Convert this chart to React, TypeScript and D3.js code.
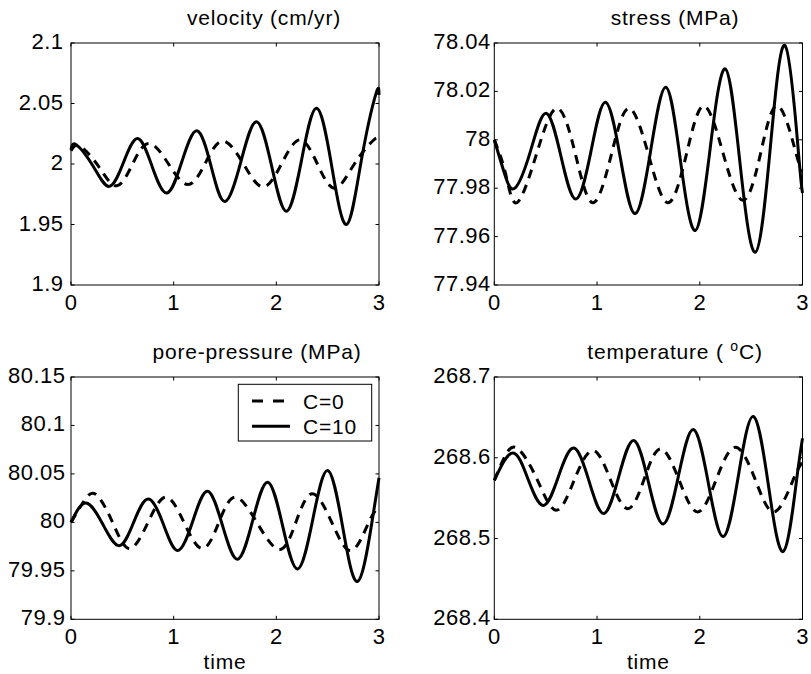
import React from 'react';
import * as d3 from 'd3';

// ---- data ----
const timeTicks = [0, 1, 2, 3];
const timeTickLabels = ['0', '1', '2', '3'];

const velTicks = [1.9, 1.95, 2, 2.05, 2.1];
const velTickLabels = ['1.9', '1.95', '2', '2.05', '2.1'];
const strTicks = [77.94, 77.96, 77.98, 78, 78.02, 78.04];
const strTickLabels = ['77.94', '77.96', '77.98', '78', '78.02', '78.04'];
const poreTicks = [79.9, 79.95, 80, 80.05, 80.1, 80.15];
const poreTickLabels = ['79.9', '79.95', '80', '80.05', '80.1', '80.15'];
const tempTicks = [268.4, 268.5, 268.6, 268.7];
const tempTickLabels = ['268.4', '268.5', '268.6', '268.7'];

const velT10 = [0, 0.05, 0.21, 0.37, 0.51, 0.65, 0.79, 0.935, 1.08, 1.227, 1.365, 1.5, 1.655, 1.808, 1.955, 2.1, 2.245, 2.393, 2.54, 2.685, 2.83, 2.97, 3.0];
const velV10 = [2.012, 2.016, 1.999, 1.9815, 2.001, 2.021, 1.998, 1.976, 2.002, 2.0275, 1.998, 1.969, 2.002, 2.035, 1.998, 1.961, 2.003, 2.046, 1.998, 1.95, 2.004, 2.058, 2.057];
const velT0 = [0, 0.08, 0.26, 0.44, 0.6, 0.76, 0.95, 1.14, 1.31, 1.48, 1.68, 1.87, 2.05, 2.23, 2.4, 2.57, 2.76, 2.95, 3.0];
const velV0 = [2.011, 2.015, 1.999, 1.982, 2.0, 2.017, 2.0, 1.983, 2.001, 2.019, 2.0, 1.981, 2.0, 2.02, 2.0, 1.98, 2.0, 2.02, 2.019];

const strT10 = [0, 0.1, 0.2, 0.35, 0.503, 0.65, 0.795, 0.94, 1.081, 1.225, 1.37, 1.52, 1.67, 1.81, 1.956, 2.1, 2.248, 2.39, 2.54, 2.685, 2.83, 2.96, 3.0];
const strV10 = [78.0, 77.986, 77.98, 77.995, 78.011, 77.993, 77.9755, 77.995, 78.0155, 77.993, 77.9695, 77.995, 78.0217, 77.992, 77.9625, 77.996, 78.0293, 77.991, 77.9535, 77.996, 78.0389, 77.995, 77.978];
const strT0 = [0, 0.11, 0.22, 0.41, 0.61, 0.79, 0.96, 1.14, 1.31, 1.5, 1.69, 1.87, 2.04, 2.23, 2.42, 2.59, 2.76, 2.94, 3.0];
const strV0 = [78.0, 77.986, 77.974, 77.994, 78.013, 77.994, 77.974, 77.994, 78.013, 77.994, 77.974, 77.994, 78.014, 77.994, 77.975, 77.994, 78.014, 77.994, 77.987];

const poreT10 = [0, 0.146, 0.31, 0.47, 0.61, 0.753, 0.9, 1.04, 1.185, 1.33, 1.475, 1.623, 1.77, 1.916, 2.06, 2.208, 2.355, 2.5, 2.645, 2.79, 2.925, 3.0];
const poreV10 = [80.0, 80.02, 79.998, 79.976, 80.0, 80.024, 79.998, 79.971, 80.001, 80.032, 79.997, 79.962, 80.002, 80.0415, 79.997, 79.952, 80.003, 80.0536, 79.996, 79.939, 79.996, 80.046];
const poreT0 = [0, 0.12, 0.24, 0.405, 0.57, 0.75, 0.925, 1.1, 1.28, 1.44, 1.6, 1.81, 2.03, 2.19, 2.35, 2.54, 2.73, 2.9, 3.0];
const poreV0 = [80.0, 80.021, 80.029, 80.0, 79.973, 80.0, 80.026, 80.0, 79.973, 80.0, 80.026, 80.0, 79.972, 80.0, 80.0295, 80.0, 79.971, 80.0, 80.016];

const tempT10 = [0, 0.18, 0.33, 0.48, 0.625, 0.773, 0.92, 1.065, 1.21, 1.357, 1.5, 1.644, 1.79, 1.937, 2.083, 2.229, 2.375, 2.521, 2.667, 2.813, 2.94, 3.0];
const tempV10 = [268.572, 268.606, 268.573, 268.541, 268.577, 268.612, 268.572, 268.531, 268.576, 268.6215, 268.57, 268.518, 268.576, 268.635, 268.569, 268.5025, 268.577, 268.651, 268.567, 268.484, 268.57, 268.624];
const tempT0 = [0, 0.1, 0.22, 0.41, 0.6, 0.78, 0.96, 1.13, 1.3, 1.46, 1.62, 1.8, 1.98, 2.16, 2.346, 2.54, 2.726, 2.91, 3.0];
const tempV0 = [268.572, 268.601, 268.612, 268.575, 268.535, 268.573, 268.609, 268.573, 268.537, 268.574, 268.611, 268.572, 268.533, 268.573, 268.613, 268.573, 268.533, 268.573, 268.595];

const legendLabels = ['C=0', 'C=10'];

// ---- layout ----
const FONT = "'Liberation Sans', Arial, Helvetica, sans-serif";
const W = 811;
const H = 674;

type Panel = {
  key: string;
  title: string;
  titleX: number;
  titleY: number;
  left: number;
  right: number;
  top: number;
  bottom: number;
  yDomain: [number, number];
  yTicks: number[];
  yLabels: string[];
  labelGap: number;
  t0: number[];
  v0: number[];
  t10: number[];
  v10: number[];
  xlabel: boolean;
  legend: boolean;
};

const panels: Panel[] = [
  {
    key: 'vel', title: 'velocity (cm/yr)', titleX: 264, titleY: 25,
    left: 71, right: 379, top: 43, bottom: 285,
    yDomain: [1.9, 2.1], yTicks: velTicks, yLabels: velTickLabels, labelGap: 7.5,
    t0: velT0, v0: velV0, t10: velT10, v10: velV10, xlabel: false, legend: false,
  },
  {
    key: 'str', title: 'stress (MPa)', titleX: 675, titleY: 25,
    left: 494.3, right: 802.5, top: 43, bottom: 285,
    yDomain: [77.94, 78.04], yTicks: strTicks, yLabels: strTickLabels, labelGap: 3.5,
    t0: strT0, v0: strV0, t10: strT10, v10: strV10, xlabel: false, legend: false,
  },
  {
    key: 'pore', title: 'pore-pressure (MPa)', titleX: 257, titleY: 359,
    left: 71, right: 379, top: 377, bottom: 619.3,
    yDomain: [79.9, 80.15], yTicks: poreTicks, yLabels: poreTickLabels, labelGap: 5.5,
    t0: poreT0, v0: poreV0, t10: poreT10, v10: poreV10, xlabel: true, legend: true,
  },
  {
    key: 'temp', title: 'temperature', titleX: 675, titleY: 359,
    left: 494.3, right: 802.5, top: 377, bottom: 619.3,
    yDomain: [268.4, 268.7], yTicks: tempTicks, yLabels: tempTickLabels, labelGap: 3.5,
    t0: tempT0, v0: tempV0, t10: tempT10, v10: tempV10, xlabel: true, legend: false,
  },
];

const TICK = 3.5;
const LW = 3;
const DASH = '9,7';
const TITLE_FS = 21;
const TITLE_LS = 0.8;

function PanelView({ p }: { p: Panel }) {
  const x = d3.scaleLinear().domain([0, 3]).range([p.left, p.right]);
  const y = d3.scaleLinear().domain(p.yDomain).range([p.bottom, p.top]);
  const line = d3
    .line<[number, number]>()
    .x((d) => x(d[0]))
    .y((d) => y(d[1]))
    .curve(d3.curveNatural);
  const s0 = p.t0.map((t, i) => [t, p.v0[i]] as [number, number]);
  const s10 = p.t10.map((t, i) => [t, p.v10[i]] as [number, number]);

  return (
    <g>
      <path d={line(s0) || ''} fill="none" stroke="#000" strokeWidth={LW} strokeDasharray={DASH} />
      <path d={line(s10) || ''} fill="none" stroke="#000" strokeWidth={LW} />
      <rect x={p.left} y={p.top} width={p.right - p.left} height={p.bottom - p.top} fill="none" stroke="#000" strokeWidth={1} />
      {timeTicks.map((t, i) => (
        <g key={'xt' + i}>
          <line x1={x(t)} x2={x(t)} y1={p.bottom} y2={p.bottom - TICK} stroke="#000" strokeWidth={1} />
          <line x1={x(t)} x2={x(t)} y1={p.top} y2={p.top + TICK} stroke="#000" strokeWidth={1} />
          <text x={x(t)} y={p.bottom + 25} textAnchor="middle" fontSize={22} letterSpacing={0.5} fontFamily={FONT}>
            {timeTickLabels[i]}
          </text>
        </g>
      ))}
      {p.yTicks.map((v, i) => (
        <g key={'yt' + i}>
          <line x1={p.left} x2={p.left + TICK} y1={y(v)} y2={y(v)} stroke="#000" strokeWidth={1} />
          <line x1={p.right} x2={p.right - TICK} y1={y(v)} y2={y(v)} stroke="#000" strokeWidth={1} />
          <text x={p.left - p.labelGap} y={y(v) + 6} textAnchor="end" fontSize={22} letterSpacing={0.5} fontFamily={FONT}>
            {p.yLabels[i]}
          </text>
        </g>
      ))}
      {p.key === 'temp' ? (
        <text x={p.titleX} y={p.titleY} textAnchor="middle" fontSize={TITLE_FS} letterSpacing={TITLE_LS} fontFamily={FONT}>
          {'temperature ( '}
          <tspan dy={-8} fontSize={14}>o</tspan>
          <tspan dy={8}>C)</tspan>
        </text>
      ) : (
        <text x={p.titleX} y={p.titleY} textAnchor="middle" fontSize={TITLE_FS} letterSpacing={TITLE_LS} fontFamily={FONT}>
          {p.title}
        </text>
      )}
      {p.xlabel && (
        <text x={(p.left + p.right) / 2} y={669} textAnchor="middle" fontSize={TITLE_FS} letterSpacing={TITLE_LS} fontFamily={FONT}>
          time
        </text>
      )}
      {p.legend && (
        <g>
          <rect x={238.3} y={384.3} width={133.4} height={56.7} fill="#fff" stroke="#000" strokeWidth={1} />
          <line x1={252} x2={290} y1={401} y2={401} stroke="#000" strokeWidth={LW} strokeDasharray="11,10" />
          <line x1={252} x2={290} y1={426.3} y2={426.3} stroke="#000" strokeWidth={LW} />
          <text x={303} y={408.7} fontSize={21} letterSpacing={0.8} fontFamily={FONT}>{legendLabels[0]}</text>
          <text x={303} y={433.7} fontSize={21} letterSpacing={0.8} fontFamily={FONT}>{legendLabels[1]}</text>
        </g>
      )}
    </g>
  );
}

export default function App() {
  return (
    <svg
      width={W}
      height={H}
      viewBox={`0 0 ${W} ${H}`}
      style={{ position: 'absolute', left: 0, top: 0, background: '#fff' }}
    >
      <rect x={0} y={0} width={W} height={H} fill="#fff" />
      {panels.map((p) => (
        <PanelView key={p.key} p={p} />
      ))}
    </svg>
  );
}
